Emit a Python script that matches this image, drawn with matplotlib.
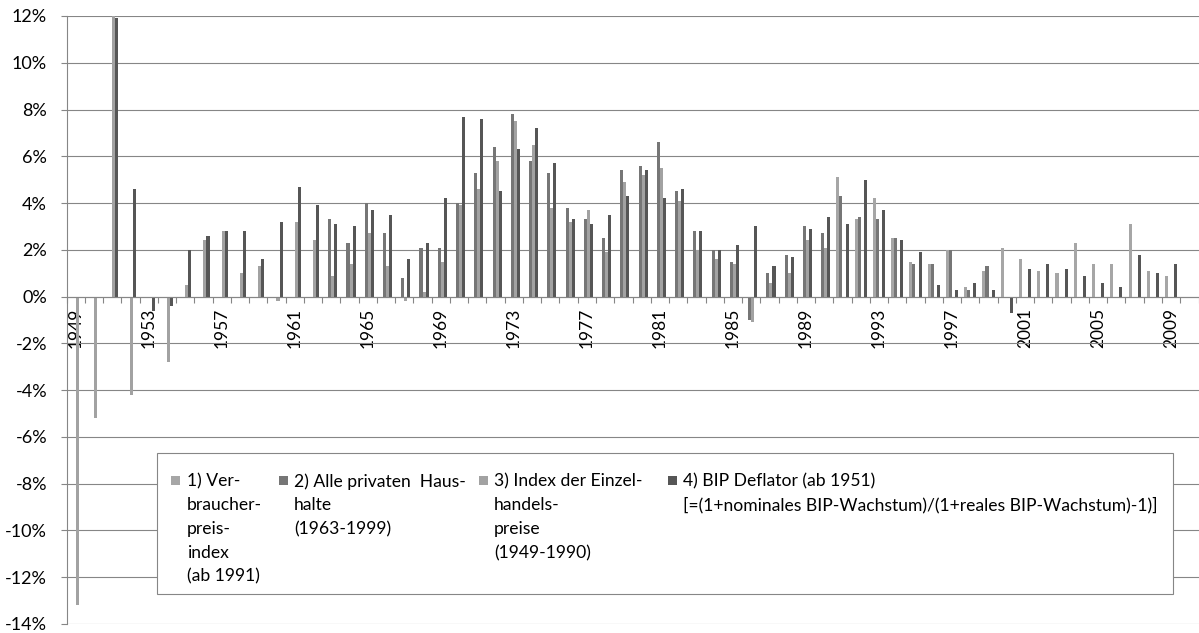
import numpy as np
import matplotlib
matplotlib.use("Agg")
import matplotlib.pyplot as plt
from matplotlib.patches import Rectangle
from matplotlib.ticker import FixedLocator, FuncFormatter

plt.rcParams["font.family"] = ["Lato", "DejaVu Sans"]

nan = np.nan
years = list(range(1949, 2011))

# 1) Verbraucherpreisindex (ab 1991), in %
vpi = {1991: 5.1, 1992: 3.3, 1993: 4.2, 1994: 2.5, 1995: 1.5, 1996: 1.4,
       1997: 2.0, 1998: 0.4, 1999: 1.1, 2000: 2.1, 2001: 1.6, 2002: 1.1,
       2003: 1.0, 2004: 2.3, 2005: 1.4, 2006: 1.4, 2007: 3.1, 2008: 1.1,
       2009: 0.9}

# 2) Alle privaten Haushalte (1963-1999), in %
haushalte = {1963: 3.3, 1964: 2.3, 1965: 4.0, 1966: 2.7, 1967: 0.8, 1968: 2.1,
             1969: 2.1, 1970: 4.0, 1971: 5.3, 1972: 6.4, 1973: 7.8, 1974: 5.8,
             1975: 5.3, 1976: 3.8, 1977: 3.3, 1978: 2.5, 1979: 5.4, 1980: 5.6,
             1981: 6.6, 1982: 4.5, 1983: 2.8, 1984: 2.0, 1985: 1.5, 1986: -1.0,
             1987: 1.0, 1988: 1.8, 1989: 3.0, 1990: 2.7, 1991: 4.3, 1992: 3.4,
             1993: 3.3, 1994: 2.5, 1995: 1.4, 1996: 1.4, 1997: 2.0, 1998: 0.3,
             1999: 1.3}

# 3) Index der Einzelhandelspreise (1949-1990), in %
einzelhandel = {1949: -13.2, 1950: -5.2, 1951: 12.0, 1952: -4.2, 1954: -2.8,
                1955: 0.5, 1956: 2.4, 1957: 2.8, 1958: 1.0, 1959: 1.3,
                1960: -0.2, 1961: 3.2, 1962: 2.4, 1963: 0.9, 1964: 1.4,
                1965: 2.7, 1966: 1.3, 1967: -0.2, 1968: 0.2, 1969: 1.5,
                1970: 3.9, 1971: 4.6, 1972: 5.8, 1973: 7.5, 1974: 6.5,
                1975: 3.8, 1976: 3.2, 1977: 3.7, 1978: 1.9, 1979: 4.9,
                1980: 5.2, 1981: 5.5, 1982: 4.1, 1983: 2.0, 1984: 1.6,
                1985: 1.4, 1986: -1.1, 1987: 0.6, 1988: 1.0, 1989: 2.4,
                1990: 2.1}

# 4) BIP Deflator (ab 1951), in %
deflator = {1951: 11.9, 1952: 4.6, 1953: -0.6, 1954: -0.4, 1955: 2.0,
            1956: 2.6, 1957: 2.8, 1958: 2.8, 1959: 1.6, 1960: 3.2, 1961: 4.7,
            1962: 3.9, 1963: 3.1, 1964: 3.0, 1965: 3.7, 1966: 3.5, 1967: 1.6,
            1968: 2.3, 1969: 4.2, 1970: 7.7, 1971: 7.6, 1972: 4.5, 1973: 6.3,
            1974: 7.2, 1975: 5.7, 1976: 3.3, 1977: 3.1, 1978: 3.5, 1979: 4.3,
            1980: 5.4, 1981: 4.2, 1982: 4.6, 1983: 2.8, 1984: 2.0, 1985: 2.2,
            1986: 3.0, 1987: 1.3, 1988: 1.7, 1989: 2.9, 1990: 3.4, 1991: 3.1,
            1992: 5.0, 1993: 3.7, 1994: 2.4, 1995: 1.9, 1996: 0.5, 1997: 0.3,
            1998: 0.6, 1999: 0.3, 2000: -0.7, 2001: 1.2, 2002: 1.4, 2003: 1.2,
            2004: 0.9, 2005: 0.6, 2006: 0.4, 2007: 1.8, 2008: 1.0, 2009: 1.4}

series = [vpi, haushalte, einzelhandel, deflator]
labels = [
    ["1) Ver-", "braucher-", "preis-", "index", "(ab 1991)"],
    ["2) Alle privaten  Haus-", "halte", "(1963-1999)"],
    ["3) Index der Einzel-", "handels-", "preise", "(1949-1990)"],
    ["4) BIP Deflator (ab 1951)",
     "[=(1+nominales BIP-Wachstum)/(1+reales BIP-Wachstum)-1)]"],
]
colors = ["#a6a6a6", "#767676", "#a2a2a2", "#565656"]

W, H = 1199, 633
fig = plt.figure(figsize=(W / 100, H / 100), dpi=100)
ax = fig.add_axes([66.5 / W, 9 / H, (1198.5 - 66.5) / W, 608 / H])

x = np.arange(len(years))
bw = 1 / 6
for i, (s, c) in enumerate(zip(series, colors)):
    vals = np.array([s.get(y, nan) for y in years])
    ax.bar(x + (i - 1.5) * bw, vals, width=bw, color=c, linewidth=0, zorder=2)

grid_c = "#868686"
ax.set_xlim(-0.5, len(years) - 0.5)
ax.set_ylim(-14, 12)
ax.set_yticks(np.arange(-14, 13, 2))
ax.yaxis.set_major_formatter(FuncFormatter(lambda v, p: f"{v:.0f}%"))
ax.grid(axis="y", color=grid_c, linewidth=0.8, zorder=0)
ax.set_axisbelow(True)

for sp in ["top", "right"]:
    ax.spines[sp].set_visible(False)
for sp in ["left", "bottom"]:
    ax.spines[sp].set_color(grid_c)
    ax.spines[sp].set_linewidth(0.8)
ax.spines["bottom"].set_position(("data", 0))
ax.spines["bottom"].set_zorder(3)

label_idx = [i for i, y in enumerate(years) if (y - 1949) % 4 == 0 and y <= 2009]
ax.set_xticks(label_idx)
ax.set_xticklabels([str(years[i]) for i in label_idx], rotation=90,
                   fontsize=12.5, va="top", ha="center")
ax.xaxis.set_minor_locator(FixedLocator(np.arange(-0.5, len(years), 1.0)))
ax.tick_params(axis="x", which="major", length=0, pad=8)
ax.tick_params(axis="x", which="minor", length=4, width=0.8, color=grid_c,
               direction="out")
ax.tick_params(axis="y", length=4, width=0.8, color=grid_c, pad=10,
               labelsize=13)

# legend box, laid out in figure pixel coordinates
def fx(px):
    return px / W

def fy(py):
    return 1 - py / H

box = Rectangle((fx(157), fy(594)), fx(1173) - fx(157), fy(453) - fy(594),
                transform=fig.transFigure, facecolor="white",
                edgecolor=grid_c, linewidth=0.8, zorder=5)
fig.add_artist(box)

marker_x = [171, 279, 479, 668]
text_x = [187, 294, 494, 683]
line_y0, line_h = 480, 23.8
msz = 9
for mx, tx, c, lines in zip(marker_x, text_x, colors, labels):
    sq = Rectangle((fx(mx), fy(line_y0 + msz / 2)), fx(msz), msz / H,
                   transform=fig.transFigure, facecolor=c, linewidth=0,
                   zorder=6)
    fig.add_artist(sq)
    for k, t in enumerate(lines):
        fig.text(fx(tx), fy(line_y0 + k * line_h), t, fontsize=12.6,
                 va="center_baseline", ha="left", zorder=7)

fig.savefig("out.png", dpi=100)
